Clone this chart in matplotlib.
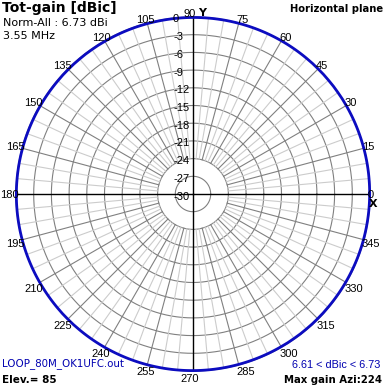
import numpy as np
import matplotlib
matplotlib.use("Agg")
import matplotlib.pyplot as plt
from matplotlib.transforms import offset_copy

# ---------------- data ----------------
azimuth_deg = [0, 10, 20, 30, 40, 50, 60, 70, 80, 90, 100, 110, 120, 130, 140, 150, 160, 170,
               180, 190, 200, 210, 220, 230, 240, 250, 260, 270, 280, 290, 300, 310, 320, 330, 340, 350]
gain_dbi = [6.67, 6.69, 6.70, 6.72, 6.72, 6.72, 6.71, 6.69, 6.67, 6.65, 6.63, 6.62, 6.61, 6.61, 6.61, 6.62, 6.63, 6.65,
            6.67, 6.69, 6.71, 6.72, 6.73, 6.73, 6.72, 6.70, 6.68, 6.66, 6.64, 6.62, 6.61, 6.61, 6.61, 6.62, 6.64, 6.65]
norm_gain = 6.73
db_ticks = [0, -3, -6, -9, -12, -15, -18, -21, -24, -27, -30]
angle_ticks = list(range(0, 360, 15))

title_left = "Tot-gain [dBic]"
info_lines = ["Norm-All : 6.73 dBi", "3.55 MHz"]
title_right = "Horizontal plane"
file_name = "LOOP_80M_OK1UFC.out"
elev_text = "Elev.= 85"
range_text = "6.61 < dBic < 6.73"
max_text = "Max gain Azi:224"

# ---------------- figure ----------------
W, H = 385, 386
fig = plt.figure(figsize=(W / 100, H / 100), dpi=100)
fig.patch.set_facecolor("white")
cx, cy, R = 193, 194, 177
ax = fig.add_axes([(cx - R) / W, (H - cy - R) / H, 2 * R / W, 2 * R / H], projection="polar")
ax.set_rlim(-30, 0)
ax.axis("off")

BLUE = "#0c0cc0"
TXTBLUE = "#0000b0"
DARK = "#808080"
LIGHT = "#cccccc"
NUMFONT = "Liberation Sans"
TXTFONT = "DejaVu Sans"

th = np.linspace(0, 2 * np.pi, 721)
for r in db_ticks[:-1]:
    ax.plot(th, np.full_like(th, r), color=DARK, lw=0.8, zorder=1, clip_on=False)

for a in range(0, 360, 5):
    if a % 90 == 0:
        continue
    col = DARK if a % 15 == 0 else LIGHT
    z = 1.2 if a % 15 == 0 else 1.1
    ax.plot([np.deg2rad(a)] * 2, [-24, 0], color=col, lw=0.8, zorder=z)

for a in (0, 90, 180, 270):
    ax.plot([np.deg2rad(a)] * 2, [-30, 0], color="black", lw=1.0, zorder=2)

# pattern
az = np.deg2rad(azimuth_deg + [360])
g = np.array(gain_dbi + [gain_dbi[0]]) - norm_gain
pat, = ax.plot(az, g, color=BLUE, lw=2.0, zorder=5, clip_on=False, solid_joinstyle="round")
pat.get_path()._interpolation_steps = 20

# dB labels along the vertical axis
for r in db_ticks:
    tr = offset_copy(ax.transData, fig=fig, x=-20, y=-5.5, units="dots")
    ax.text(np.pi / 2, r, f"{r}", transform=tr, ha="left", va="baseline",
            fontsize=8, family=NUMFONT, color="black", zorder=6)

# angle labels
h = 8.0
for a in angle_ticks:
    c, s = np.cos(np.deg2rad(a)), np.sin(np.deg2rad(a))
    if c > 0.1:
        ha, dx = "left", -2
    elif c < -0.1:
        ha, dx = "center", -7 * abs(c)
    else:
        ha, dx = "center", -3
    ss = np.clip(2 * s, -1, 1)
    base = h * (0.5 - 0.5 * ss) + (2.5 * -s if s < 0 else 0)
    tr = offset_copy(ax.transData, fig=fig, x=dx, y=-base, units="dots")
    ax.text(np.deg2rad(a), 0, f"{a}", transform=tr, ha=ha, va="baseline",
            fontsize=8, family=NUMFONT, color="black", zorder=6)


def ptext(x, y, s, **kw):
    fig.text(x / W, 1 - y / H, s, va="baseline", **kw)


ptext(198, 16, "Y", fontsize=8, family=TXTFONT, weight="bold")
ptext(369, 207, "X", fontsize=8, family=TXTFONT, weight="bold")

ptext(2, 12, title_left, fontsize=10, family=TXTFONT, weight="bold")
ptext(3, 26, info_lines[0], fontsize=8, family=TXTFONT)
ptext(3, 39, info_lines[1], fontsize=8, family=TXTFONT)
ptext(383, 12, title_right, fontsize=7.2, family=TXTFONT, weight="bold", ha="right")
ptext(2, 366, file_name, fontsize=7.4, family=TXTFONT, color=TXTBLUE)
ptext(2, 383, elev_text, fontsize=7.5, family=TXTFONT, weight="bold")
ptext(380, 368, range_text, fontsize=7.8, family=NUMFONT, color=TXTBLUE, ha="right")
ptext(382, 383, max_text, fontsize=7.3, family=TXTFONT, weight="bold", ha="right")

fig.savefig("out.png", dpi=100, facecolor="white")
